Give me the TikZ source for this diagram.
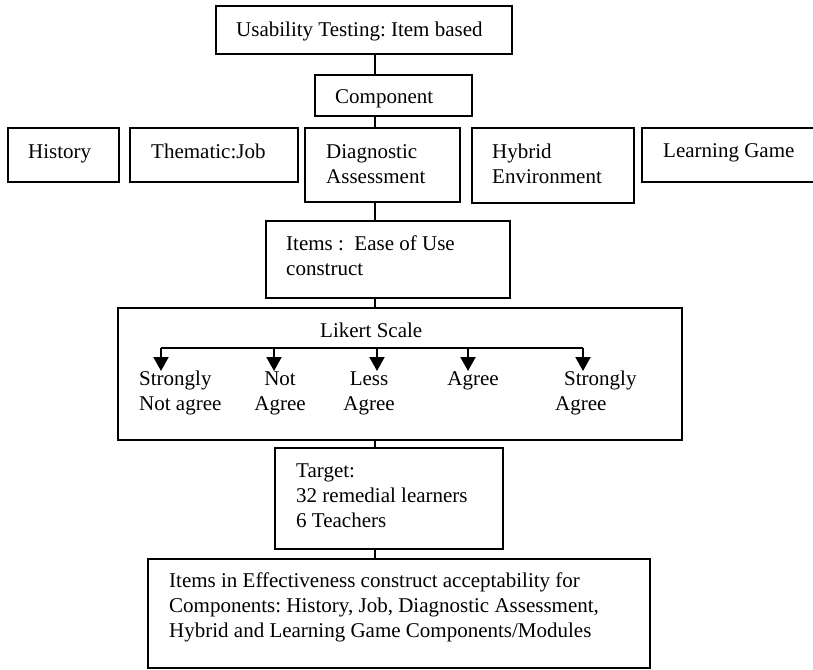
\documentclass[tikz,border=0pt]{standalone}
\usepackage{fontspec}
\setmainfont{Liberation Serif}
\usetikzlibrary{arrows.meta}
\frenchspacing
\begin{document}
\begin{tikzpicture}[x=1pt,y=-1pt,
  box/.style={draw, line width=2pt, inner sep=0pt, anchor=north west},
  lbl/.style={anchor=base west, inner sep=0pt, font=\fontsize{21}{25}\selectfont, align=left},
  clbl/.style={anchor=base, inner sep=0pt, font=\fontsize{21}{25}\selectfont, align=center},
  link/.style={line width=2pt},
  scalebar/.style={line width=2pt},
  scalearrow/.style={line width=2pt, -{Triangle[width=15pt,length=14pt]}}]
\useasboundingbox (0,0) rectangle (813,669);

% boxes
\node[box, minimum width=296pt, minimum height=48pt]  (top)    at (215,5)   {};
\node[box, minimum width=157pt, minimum height=41pt]  (comp)   at (314,74)  {};
\node[box, minimum width=111pt, minimum height=54pt]  (hist)   at (7,127)   {};
\node[box, minimum width=168pt, minimum height=54pt]  (them)   at (129,127) {};
\node[box, minimum width=155pt, minimum height=74pt]  (diag)   at (304,127) {};
\node[box, minimum width=162pt, minimum height=75pt]  (hyb)    at (471,127) {};
\node[box, minimum width=175pt, minimum height=54pt]  (learn)  at (641,127) {};
\node[box, minimum width=244pt, minimum height=77pt]  (items)  at (265,220) {};
\node[box, minimum width=564pt, minimum height=132pt] (likert) at (117,307) {};
\node[box, minimum width=228pt, minimum height=101pt] (target) at (274,447) {};
\node[box, minimum width=502pt, minimum height=109pt] (final)  at (147,558) {};

% box texts (multi-line nodes sit on the baseline of their last line)
\node[lbl] (ttop)    at (236,37)  {Usability Testing: Item based};
\node[lbl] (tcomp)   at (335,103) {Component};
\node[lbl] (thist)   at (28,158)  {History};
\node[lbl] (tthem)   at (151,158) {Thematic:Job};
\node[lbl] (tdiag)   at (326,183) {Diagnostic\\Assessment};
\node[lbl] (thyb)    at (492,183) {Hybrid\\Environment};
\node[lbl] (tlearn)  at (663,157) {Learning Game};
\node[lbl] (titems)  at (286,275) {Items :~ Ease of Use\\construct};
\node[lbl] (tlikert) at (320,337) {Likert Scale};
\node[lbl] (ttarget) at (296,527) {Target:\\32 remedial learners\\6 Teachers};
\node[lbl] (tfinal)  at (169,637) {Items in Effectiveness construct acceptability for\\Components: History, Job, Diagnostic Assessment,\\Hybrid and Learning Game Components/Modules};

% vertical spine
\coordinate (spine) at (375,0);
\draw[link] (spine |- top.south)    -- (spine |- comp.north);
\draw[link] (spine |- comp.south)   -- (spine |- diag.north);
\draw[link] (spine |- diag.south)   -- (spine |- items.north);
\draw[link] (spine |- items.south)  -- (spine |- likert.north);
\draw[link] (spine |- likert.south) -- (spine |- target.north);
\draw[link] (spine |- target.south) -- (spine |- final.north);

% Likert scale options
\coordinate (bar) at (0,348);
\coordinate (a1) at (161,371);
\coordinate (a2) at (274,371);
\coordinate (a3) at (377,371);
\coordinate (a4) at (468,371);
\coordinate (a5) at (583,371);
\draw[scalebar] (a1 |- bar) -- (a5 |- bar);
\foreach \t in {a1,a2,a3,a4,a5}
  \draw[scalearrow] (\t |- bar) -- (\t);

\node[lbl]  (o1) at (139,410) {Strongly\\Not agree};
\node[clbl] (o2) at (280,410) {Not\\Agree};
\node[clbl] (o3) at (369,410) {Less\\Agree};
\node[clbl] (o4) at (473,385) {Agree};
\node[lbl]  (o5) at (555,410) {\hspace*{9pt}Strongly\\Agree};
\end{tikzpicture}
\end{document}
